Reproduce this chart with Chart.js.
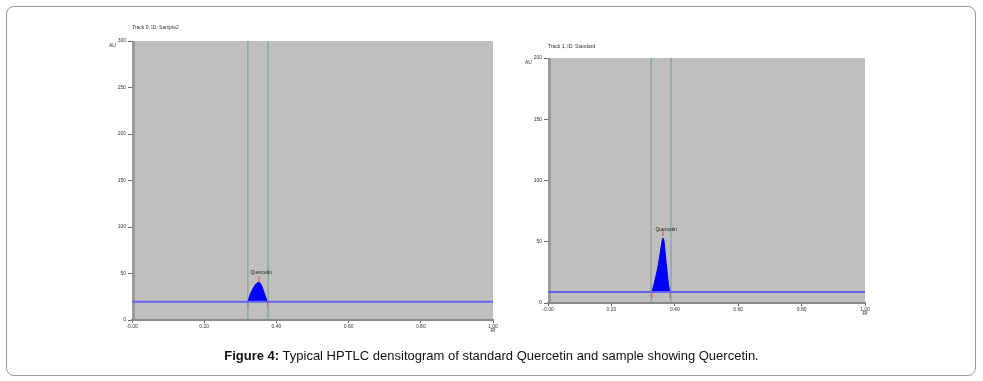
<!DOCTYPE html>
<html>
<head>
<meta charset="utf-8">
<script src="https://cdn.jsdelivr.net/npm/chart.js@4/dist/chart.umd.min.js"></script>
<style>
  body { margin: 0; width: 983px; height: 381px; background: #fff; position: relative; overflow: hidden; font-family: "Liberation Sans", Arial, sans-serif; }
  .frame { position: absolute; left: 6px; top: 6px; width: 968px; height: 368px; border: 1px solid #9a9a9a; border-radius: 8px; }
  .wrap { position: absolute; }
  #caption { position: absolute; left: 0; width: 983px; top: 348px; text-align: center; font-size: 13px; color: #111; }
</style>
</head>
<body>
<div class="frame"></div>
<div class="wrap" style="left:90px;top:20px;width:420px;height:330px"><canvas id="sample"></canvas></div>
<div class="wrap" style="left:505px;top:30px;width:380px;height:300px"><canvas id="standard"></canvas></div>
<div id="caption"><b>Figure 4:</b> Typical HPTLC densitogram of standard Quercetin and sample showing Quercetin.</div>
<script>
// Track 0 (sample)
const sampleBaseline = 19.5;
const sampleBounds = [0.321, 0.377];
const samplePeakRf = [0.321, 0.327, 0.334, 0.341, 0.347, 0.352, 0.357, 0.363, 0.369, 0.375];
const samplePeakAU = [19.5, 27, 33, 37.5, 40, 40.5, 38.5, 33, 26, 19.5];
const sampleMarks = [[0.321, 17], [0.375, 17], [0.352, 43.5]];
const sampleLabel = { rf: 0.358, au: 51, text: "Quercetin" };

// Track 1 (standard)
const standardBaseline = 9;
const standardBounds = [0.325, 0.388];
const standardPeakRf = [0.328, 0.336, 0.344, 0.351, 0.357, 0.362, 0.365, 0.370, 0.376, 0.381, 0.385];
const standardPeakAU = [9, 17, 26, 36, 46, 53, 52, 40, 25, 14, 9];
const standardMarks = [[0.328, 6], [0.385, 6], [0.363, 57]];
const standardLabel = { rf: 0.373, au: 60, text: "Quercetin" };

const rfTicks = [0, 0.2, 0.4, 0.6, 0.8, 1.0];

const plotBg = {
    id: "plotBg",
    beforeDraw(chart) {
        const { ctx, chartArea: a } = chart;
        ctx.save();
        ctx.fillStyle = "#c1bfbd";
        ctx.fillRect(a.left, a.top, a.right - a.left, a.bottom - a.top);
        ctx.fillStyle = "#9c9a98";
        ctx.fillRect(a.left, a.top, 3, a.bottom - a.top);
        ctx.restore();
    },
    afterDraw(chart) {
        const { ctx, chartArea: a, scales } = chart;
        const o = chart.options.plugins.plotBg;
        ctx.save();
        ctx.fillStyle = "#333";
        ctx.font = "5px 'Liberation Sans', Arial, sans-serif";
        ctx.textBaseline = "middle";
        ctx.fillText(o.title, a.left, a.top - o.titleGap);
        ctx.fillText("AU", a.left - 23, a.top + 5);
        ctx.textAlign = "center";
        ctx.fillText("Rf", a.right, a.bottom + 11);
        ctx.fillStyle = "#222";
        ctx.fillText(o.label.text, scales.x.getPixelForValue(o.label.rf), scales.y.getPixelForValue(o.label.au));
        ctx.restore();
    }
};

function makeChart(id, opts) {
    const peak = opts.rf.map((x, i) => ({ x, y: opts.au[i] }));
    const vline = x => [{ x, y: 0 }, { x, y: opts.yMax }];
    return new Chart(document.getElementById(id), {
        type: "line",
        data: {
            datasets: [
                {
                    data: [{ x: 0, y: opts.base }, { x: 1, y: opts.base }],
                    borderColor: "#6464f2", borderWidth: 2, pointRadius: 0
                },
                {
                    data: peak,
                    borderColor: "#0000ff", backgroundColor: "#0000ff", borderWidth: 1,
                    fill: { value: opts.base }, pointRadius: 0, tension: 0.3
                },
                { data: vline(opts.bounds[0]), borderColor: "#6b9c9e", borderWidth: 1, pointRadius: 0 },
                { data: vline(opts.bounds[1]), borderColor: "#6b9c9e", borderWidth: 1, pointRadius: 0 },
                {
                    data: opts.marks.map(([x, y]) => ({ x, y })),
                    showLine: false, pointStyle: "line", rotation: 90, pointRadius: 3,
                    borderColor: "#e05050", borderWidth: 1
                }
            ]
        },
        options: {
            responsive: true, maintainAspectRatio: false, animation: false,
            layout: { padding: opts.padding },
            plugins: {
                legend: { display: false }, tooltip: { enabled: false },
                plotBg: { title: opts.title, titleGap: opts.titleGap, label: opts.label }
            },
            scales: {
                x: {
                    type: "linear", min: 0, max: 1,
                    afterBuildTicks: s => { s.ticks = rfTicks.map(v => ({ value: v })); },
                    afterFit: s => { s.height = opts.xH; },
                    border: { color: "#8a8a8a", width: 2 },
                    grid: { drawOnChartArea: false, tickLength: 3, color: "#666" },
                    ticks: {
                        font: { size: 5 }, color: "#333", padding: 1, maxRotation: 0,
                        callback: v => v === 0 ? "-0.00" : v.toFixed(2)
                    }
                },
                y: {
                    min: 0, max: opts.yMax,
                    afterFit: s => { s.width = opts.yW; },
                    border: { display: false },
                    grid: { drawOnChartArea: false, tickLength: 4, color: "#666" },
                    ticks: { stepSize: 50, font: { size: 5 }, color: "#333", padding: 2 }
                }
            }
        },
        plugins: [plotBg]
    });
}

makeChart("sample", {
    base: sampleBaseline, bounds: sampleBounds, rf: samplePeakRf, au: samplePeakAU,
    marks: sampleMarks, label: sampleLabel, yMax: 300, title: "Track 0, ID: Sample2", titleGap: 13,
    padding: { left: 0, right: 17, top: 21, bottom: 0 }, yW: 42, xH: 30
});

makeChart("standard", {
    base: standardBaseline, bounds: standardBounds, rf: standardPeakRf, au: standardPeakAU,
    marks: standardMarks, label: standardLabel, yMax: 200, title: "Track 1, ID: Standard", titleGap: 11,
    padding: { left: 0, right: 20, top: 28, bottom: 0 }, yW: 43, xH: 27
});
</script>
</body>
</html>
